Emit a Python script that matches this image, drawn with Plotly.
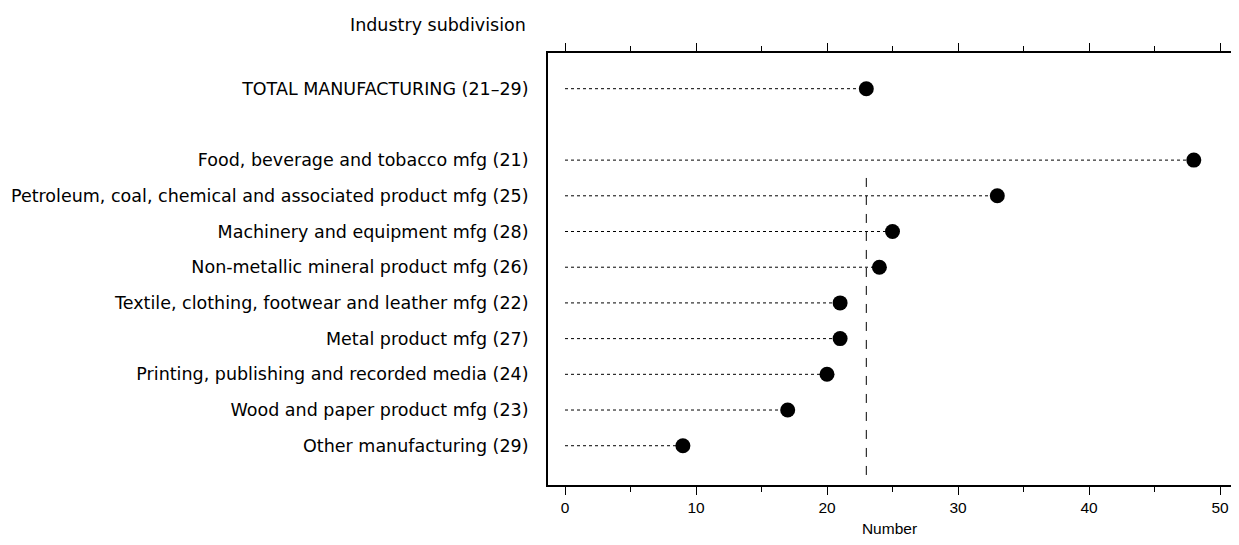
import plotly.graph_objects as go

categories = [
    "TOTAL MANUFACTURING (21–29)",
    "Food, beverage and tobacco mfg (21)",
    "Petroleum, coal, chemical and associated product mfg (25)",
    "Machinery and equipment mfg (28)",
    "Non-metallic mineral product mfg (26)",
    "Textile, clothing, footwear and leather mfg (22)",
    "Metal product mfg (27)",
    "Printing, publishing and recorded media (24)",
    "Wood and paper product mfg (23)",
    "Other manufacturing (29)",
]
values = [23, 48, 33, 25, 24, 21, 21, 20, 17, 9]
rows = [0, 2, 3, 4, 5, 6, 7, 8, 9, 10]
total_value = 23
x_ticks = [0, 10, 20, 30, 40, 50]

# page has an 8px body margin; the container is the window width minus 16px
W, H = 1223, 529
L, R, T, B = 540, 0, 45, 52

LABEL_FONT = dict(family="DejaVu Sans, sans-serif", size=17.5, color="black")
TICK_FONT = dict(family="Liberation Sans, Arial, sans-serif", size=15.5, color="black")

fig = go.Figure()

# dotted leader lines from 0 to each value
lx, ly = [], []
for v, r in zip(values, rows):
    lx += [0, v, None]
    ly += [r, r, None]
fig.add_trace(go.Scatter(x=lx, y=ly, mode="lines",
                         line=dict(color="black", width=1, dash="dot"),
                         hoverinfo="skip", showlegend=False))

# reference line at total value
fig.add_trace(go.Scatter(x=[total_value, total_value], y=[2.5, 10.9], mode="lines",
                         line=dict(color="black", width=1, dash="dash"),
                         hoverinfo="skip", showlegend=False))

fig.add_trace(go.Scatter(x=values, y=rows, mode="markers",
                         marker=dict(color="black", size=15),
                         showlegend=False))

fig.update_layout(
    width=W, height=H,
    margin=dict(l=L, r=R, t=T, b=B),
    plot_bgcolor="white", paper_bgcolor="white",
    font=TICK_FONT,
    xaxis=dict(range=[-1.298, 50.84], tickvals=x_ticks, ticks="outside", ticklen=8,
               tickwidth=1, tickcolor="black", showline=True, linecolor="black",
               linewidth=1.5, mirror="ticks", showgrid=False, zeroline=False,
               automargin=False,
               minor=dict(dtick=5, tick0=0, ticks="outside", ticklen=5,
                          tickcolor="black", showgrid=False),
               title=dict(text="Number", standoff=9, font=TICK_FONT),
               tickfont=TICK_FONT),
    yaxis=dict(range=[11.1, -1], tickvals=rows, ticktext=categories, ticks="",
               showline=True, linecolor="black", linewidth=2, showgrid=False,
               zeroline=False, ticklabelstandoff=14, tickfont=LABEL_FONT,
               automargin=False),
    annotations=[dict(text="Industry subdivision", xref="paper", yref="paper",
                      x=-20 / (W - L - R), y=1 + 28 / (H - T - B),
                      xanchor="right", yanchor="middle", showarrow=False,
                      font=LABEL_FONT)],
)

fig.write_html("out.html")
